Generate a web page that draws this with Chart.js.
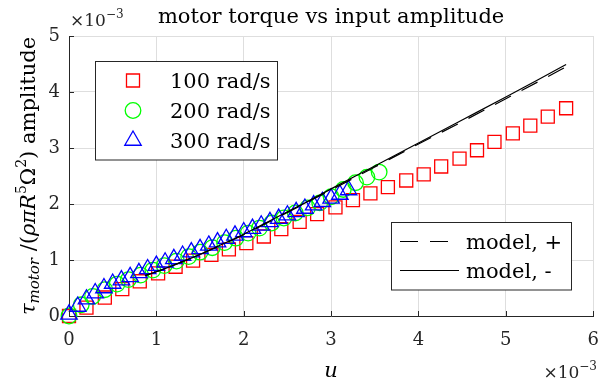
<!DOCTYPE html>
<html>
<head>
<meta charset="utf-8">
<script src="https://cdn.jsdelivr.net/npm/chart.js@4.4.0/dist/chart.umd.min.js"></script>
<style>
html, body { margin: 0; padding: 0; background: #fff; }
#wrap { width: 604px; height: 387px; }
</style>
</head>
<body>
<div id="wrap"><canvas id="torqueChart" width="604" height="387"></canvas></div>
<script>
// all values in units of 1e-3 (both axes carry a x10^-3 multiplier)
const xTicks = [0, 1, 2, 3, 4, 5, 6];
const yTicks = [0, 1, 2, 3, 4, 5];

// 100 rad/s
const u100 = [0, 0.20, 0.41, 0.61, 0.81, 1.02, 1.22, 1.42, 1.63, 1.83, 2.03, 2.23, 2.43, 2.64, 2.84,
    3.05, 3.25, 3.45, 3.65, 3.86, 4.06, 4.26, 4.47, 4.67, 4.87, 5.08, 5.28, 5.48, 5.69];
const tau100 = [0.00, 0.15, 0.33, 0.48, 0.62, 0.76, 0.88, 0.99, 1.09, 1.19, 1.30, 1.42, 1.55, 1.68, 1.82,
    1.94, 2.07, 2.19, 2.30, 2.42, 2.53, 2.67, 2.81, 2.96, 3.11, 3.26, 3.40, 3.56, 3.71];

// 200 rad/s
const u200 = [0, 0.14, 0.27, 0.41, 0.55, 0.68, 0.82, 0.96, 1.09, 1.23, 1.37, 1.50, 1.64, 1.78,
    1.91, 2.05, 2.18, 2.32, 2.46, 2.59, 2.73, 2.87, 3.00, 3.14, 3.28, 3.41, 3.55];
const tau200 = [0.00, 0.20, 0.35, 0.47, 0.57, 0.65, 0.73, 0.82, 0.90, 0.98, 1.06, 1.14, 1.22, 1.31,
    1.39, 1.48, 1.57, 1.66, 1.75, 1.84, 1.93, 2.02, 2.13, 2.26, 2.38, 2.48, 2.57];

// 300 rad/s
const u300 = [0, 0.1, 0.2, 0.3, 0.4, 0.5, 0.6, 0.7, 0.8, 0.9, 1.0, 1.1, 1.2, 1.3, 1.4, 1.5, 1.6,
    1.7, 1.8, 1.9, 2.0, 2.1, 2.2, 2.3, 2.4, 2.5, 2.6, 2.7, 2.8, 2.9, 3.0, 3.1, 3.2];
const tau300 = [0.03, 0.17, 0.30, 0.41, 0.50, 0.58, 0.64, 0.70, 0.77, 0.84, 0.90, 0.96, 1.02, 1.08, 1.14, 1.20, 1.26,
    1.32, 1.38, 1.44, 1.50, 1.56, 1.62, 1.68, 1.74, 1.80, 1.86, 1.92, 1.98, 2.04, 2.10, 2.17, 2.25];

// model curves
const uModel = [0.87, 1.0, 1.25, 1.5, 1.75, 2.0, 2.25, 2.5, 2.75, 3.0, 3.5, 4.0, 4.5, 5.0, 5.5, 5.69];
const tauPlus = [0.72, 0.79, 0.94, 1.10, 1.27, 1.45, 1.65, 1.85, 2.05, 2.25, 2.66, 3.07, 3.47, 3.88, 4.29, 4.45];
const tauMinus = [0.72, 0.79, 0.94, 1.10, 1.28, 1.46, 1.66, 1.86, 2.06, 2.27, 2.68, 3.09, 3.50, 3.91, 4.33, 4.49];

const pts = (xs, ys) => xs.map((x, i) => ({ x: x, y: ys[i] }));

const SERIF = '"DejaVu Serif", "Liberation Serif", serif';
const AXIS = '#262626';

function rich(ctx, parts, x, y, align) {
    // draw a run of text pieces (italic / sub / superscript) on one baseline
    let w = 0;
    parts.forEach(p => {
        ctx.font = (p.it ? 'italic ' : '') + p.size + 'px ' + SERIF;
        p.w = ctx.measureText(p.t).width;
        w += p.w;
    });
    let cx = align === 'center' ? x - w / 2 : (align === 'right' ? x - w : x);
    ctx.textAlign = 'left';
    ctx.textBaseline = 'alphabetic';
    parts.forEach(p => {
        ctx.font = (p.it ? 'italic ' : '') + p.size + 'px ' + SERIF;
        ctx.fillText(p.t, cx, y + (p.dy || 0));
        cx += p.w;
    });
}

const overlay = {
    id: 'overlay',
    afterDatasetsDraw(chart) {
        const ctx = chart.ctx;
        const ds = chart.data.datasets;
        ctx.save();
        // marker legend
        ctx.fillStyle = '#fff';
        ctx.strokeStyle = AXIS;
        ctx.lineWidth = 1;
        ctx.fillRect(95.5, 61.5, 182, 98.5);
        ctx.strokeRect(95.5, 61.5, 182, 98.5);
        const rows = [80.5, 110.5, 140.5];
        [0, 1, 2].forEach((k, i) => {
            const d = ds[k];
            ctx.strokeStyle = d.borderColor;
            ctx.fillStyle = 'rgba(0,0,0,0)';
            ctx.lineWidth = d.borderWidth;
            Chart.helpers.drawPoint(ctx, { pointStyle: d.pointStyle, radius: d.pointRadius, rotation: 0, borderWidth: d.borderWidth }, 133, rows[i]);
            ctx.fillStyle = '#000';
            ctx.font = '21px ' + SERIF;
            ctx.textAlign = 'left';
            ctx.textBaseline = 'alphabetic';
            ctx.fillText(d.label, 170, rows[i] + 7.5);
        });
        // model legend
        ctx.fillStyle = '#fff';
        ctx.strokeStyle = AXIS;
        ctx.lineWidth = 1;
        ctx.fillRect(391.5, 222.5, 180, 67.5);
        ctx.strokeRect(391.5, 222.5, 180, 67.5);
        const rows2 = [241.5, 270.5];
        [3, 4].forEach((k, i) => {
            const d = ds[k];
            ctx.strokeStyle = '#000';
            ctx.lineWidth = d.borderWidth;
            ctx.setLineDash(d.borderDash || []);
            ctx.beginPath();
            ctx.moveTo(400, rows2[i]);
            ctx.lineTo(459, rows2[i]);
            ctx.stroke();
            ctx.setLineDash([]);
            ctx.fillStyle = '#000';
            ctx.font = '21px ' + SERIF;
            ctx.fillText(d.label, 466, rows2[i] + 7);
        });
        ctx.restore();
    },
    afterDraw(chart) {
        const ctx = chart.ctx;
        const a = chart.chartArea;
        const sx = chart.scales.x, sy = chart.scales.y;
        ctx.save();
        // inward tick marks
        ctx.strokeStyle = AXIS;
        ctx.lineWidth = 1;
        ctx.beginPath();
        xTicks.forEach(v => {
            const px = Math.round(sx.getPixelForValue(v)) + 0.5;
            ctx.moveTo(px, a.bottom);
            ctx.lineTo(px, a.bottom - 5);
        });
        yTicks.forEach(v => {
            const py = Math.round(sy.getPixelForValue(v)) + 0.5;
            ctx.moveTo(a.left, py);
            ctx.lineTo(a.left + 5, py);
        });
        ctx.stroke();

        ctx.fillStyle = '#000';
        // title
        ctx.font = '21px ' + SERIF;
        ctx.textAlign = 'center';
        ctx.textBaseline = 'alphabetic';
        ctx.fillText('motor torque vs input amplitude', (a.left + a.right) / 2, 23);

        // exponent labels
        ctx.fillStyle = AXIS;
        rich(ctx, [{ t: '\u00d710', size: 17 }, { t: '\u22123', size: 12, dy: -8 }], 70, 26, 'left');
        rich(ctx, [{ t: '\u00d710', size: 17 }, { t: '\u22123', size: 12, dy: -8 }], 597, 378, 'right');

        // x label
        ctx.fillStyle = '#000';
        rich(ctx, [{ t: 'u', size: 21, it: true }], (a.left + a.right) / 2, 377, 'center');

        // y label, rotated
        ctx.translate(35, (a.top + a.bottom) / 2);
        ctx.rotate(-Math.PI / 2);
        rich(ctx, [
            { t: '\u03c4', size: 21, it: true },
            { t: 'motor', size: 15, it: true, dy: 4 },
            { t: ' /(', size: 21 },
            { t: '\u03c1\u03c0R', size: 21, it: true },
            { t: '5', size: 14, dy: -9 },
            { t: '\u03a9', size: 21 },
            { t: '2', size: 14, dy: -9 },
            { t: ') amplitude', size: 21 }
        ], 0, 0, 'center');
        ctx.restore();
    }
};

const ctx1 = document.getElementById('torqueChart').getContext('2d');
const torqueChart = new Chart(ctx1, {
    type: 'scatter',
    data: {
        datasets: [{
            label: '100 rad/s',
            data: pts(u100, tau100),
            pointStyle: 'rect',
            pointRadius: 9.2,
            borderColor: '#ff0000',
            backgroundColor: 'rgba(0,0,0,0)',
            borderWidth: 1.3,
            clip: false,
            order: 4
        }, {
            label: '200 rad/s',
            data: pts(u200, tau200),
            pointStyle: 'circle',
            pointRadius: 7.8,
            borderColor: '#00ff00',
            backgroundColor: 'rgba(0,0,0,0)',
            borderWidth: 1.3,
            clip: false,
            order: 3
        }, {
            label: '300 rad/s',
            data: pts(u300, tau300),
            pointStyle: 'triangle',
            pointRadius: 9.5,
            borderColor: '#0000ff',
            backgroundColor: 'rgba(0,0,0,0)',
            borderWidth: 1.3,
            clip: false,
            order: 2
        }, {
            label: 'model, +',
            data: pts(uModel, tauPlus),
            showLine: true,
            pointRadius: 0,
            borderColor: '#000',
            borderWidth: 1.2,
            borderDash: [18, 12],
            cubicInterpolationMode: 'monotone',
            order: 1
        }, {
            label: 'model, -',
            data: pts(uModel, tauMinus),
            showLine: true,
            pointRadius: 0,
            borderColor: '#000',
            borderWidth: 1.2,
            cubicInterpolationMode: 'monotone',
            order: 0
        }]
    },
    options: {
        responsive: false,
        animation: false,
        layout: { padding: { top: 36, right: 7, left: 0, bottom: 0 } },
        plugins: {
            legend: { display: false },
            tooltip: { enabled: false }
        },
        scales: {
            x: {
                type: 'linear',
                min: 0,
                max: 6,
                afterBuildTicks: s => { s.ticks = xTicks.map(v => ({ value: v })); },
                afterFit: s => { s.height = 71; s.paddingLeft = 0; s.paddingRight = 0; },
                grid: { color: '#dedede', drawTicks: false },
                border: { color: AXIS, width: 1 },
                ticks: { color: AXIS, padding: 14, font: { family: SERIF, size: 18 } }
            },
            y: {
                type: 'linear',
                min: 0,
                max: 5,
                afterBuildTicks: s => { s.ticks = yTicks.map(v => ({ value: v })); },
                afterFit: s => { s.width = 69; s.paddingTop = 0; s.paddingBottom = 0; },
                grid: { color: '#dedede', drawTicks: false },
                border: { color: AXIS, width: 1 },
                ticks: { color: AXIS, padding: 9, font: { family: SERIF, size: 18 } }
            }
        }
    },
    plugins: [overlay]
});
</script>
</body>
</html>
